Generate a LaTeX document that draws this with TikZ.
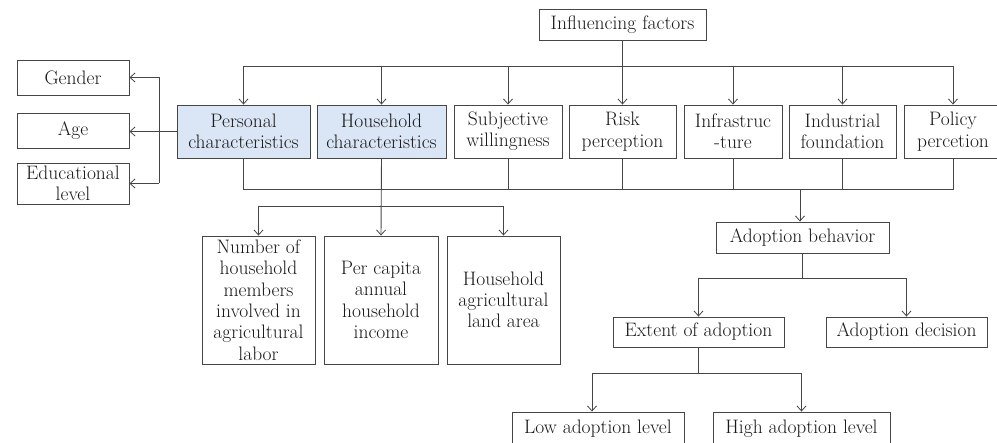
\documentclass[tikz,border=0pt]{standalone}
\usetikzlibrary{arrows.meta}
\definecolor{boxblue}{RGB}{218,230,245}
\definecolor{linegray}{RGB}{70,70,70}
\begin{document}
\begin{tikzpicture}[x=1pt,y=-1pt,
  box/.style={draw=linegray, line width=0.9pt, inner sep=0pt, align=center,
    text=black!90, font=\fontsize{19.5}{21.3}\selectfont},
  bluebox/.style={box, fill=boxblue},
  conn/.style={draw=linegray, line width=0.9pt},
  arr/.style={conn, -{Straight Barb[length=5pt,width=9pt,line width=0.8pt]}}]
\useasboundingbox (0,0) rectangle (997,443);
\clip (0,0) rectangle (997,443);
% nodes
\node[box, minimum width=167pt, minimum height=31pt] (inf) at (622.5,24.5) {Influencing factors};
\node[box, minimum width=112pt, minimum height=35pt] (gender) at (73,77.5) {Gender};
\node[box, minimum width=112pt, minimum height=35pt] (age) at (73,130.5) {Age};
\node[box, minimum width=112pt, minimum height=41pt] (edu) at (73,183.5) {Educational\\level};
\node[bluebox, minimum width=133pt, minimum height=53pt] (pers) at (243.5,131.5) {Personal\\characteristics};
\node[bluebox, minimum width=129pt, minimum height=53pt] (hh) at (381.5,131.5) {Household\\characteristics};
\node[box, minimum width=108pt, minimum height=53pt] (subj) at (508,131.5) {Subjective\\willingness};
\node[box, minimum width=107pt, minimum height=53pt] (risk) at (622.5,131.5) {Risk\\perception};
\node[box, minimum width=98pt, minimum height=53pt] (infra) at (733,131.5) {Infrastruc\\-ture};
\node[box, minimum width=107pt, minimum height=53pt] (indus) at (842.5,131.5) {Industrial\\foundation};
\node[box, minimum width=98pt, minimum height=53pt] (policy) at (953,131.5) {Policy\\percetion};
\node[box, minimum width=113pt, minimum height=128pt] (b1) at (258.5,300) {Number of\\household\\members\\involved in\\agricultural\\labor};
\node[box, minimum width=114pt, minimum height=128pt] (b2) at (381,300) {Per capita\\annual\\household\\income};
\node[box, minimum width=113pt, minimum height=128pt] (b3) at (503.5,300) {Household\\agricultural\\land area};
\node[box, minimum width=173pt, minimum height=31pt] (adb) at (802.5,237.5) {Adoption behavior};
\node[box, minimum width=171pt, minimum height=30pt] (ext) at (698.5,332) {Extent of adoption};
\node[box, minimum width=161pt, minimum height=30pt] (dec) at (906.5,332) {Adoption decision};
\node[box, minimum width=172pt, minimum height=34pt] (low) at (598,429) {Low adoption level};
\node[box, minimum width=177pt, minimum height=34pt] (high) at (801.5,429) {High adoption level};
% helper coordinates
\coordinate (tb) at (0,66);
\coordinate (bb) at (0,189);
\coordinate (hs) at (0,206);
\coordinate (as) at (0,278);
\coordinate (es) at (0,373);
\coordinate (lv) at (159,0);
\coordinate (ad) at (800,189);
\coordinate (la) at (592,373);
% top distribution
\draw[arr] (inf) -- (risk);
\draw[conn] (tb -| pers) -- (tb -| policy);
\foreach \n in {pers,hh,subj,infra,indus,policy}{
  \draw[arr] (tb -| \n) -- (\n.north);
}
% left group
\draw[arr] (pers.west) -- (pers.west -| age.east);
\draw[conn] (lv |- gender) -- (lv |- edu);
\draw[arr] (lv |- gender) -- (gender.east);
\draw[arr] (lv |- edu) -- (edu.east);
% bottom collection
\draw[conn] (pers.south) -- (bb -| pers) -- (bb -| policy) -- (policy.south);
\foreach \n in {subj,risk,infra,indus}{
  \draw[conn] (\n.south) -- (bb -| \n);
}
\draw[arr] (ad) -- (ad |- adb.north);
% household split
\draw[arr] (hh.south) -- (b2.north);
\draw[conn] (hs -| b1) -- (hs -| b3);
\draw[arr] (hs -| b1) -- (b1.north);
\draw[arr] (hs -| b3) -- (b3.north);
% adoption split
\draw[conn] (adb.south) -- (as -| adb);
\draw[conn] (as -| ext) -- (as -| dec);
\draw[arr] (as -| ext) -- (ext.north);
\draw[arr] (as -| dec) -- (dec.north);
% extent split
\draw[conn] (ext.south) -- (es -| ext);
\draw[conn] (la) -- (es -| high);
\draw[arr] (la) -- (la |- low.north);
\draw[arr] (es -| high) -- (high.north);
\end{tikzpicture}
\end{document}
